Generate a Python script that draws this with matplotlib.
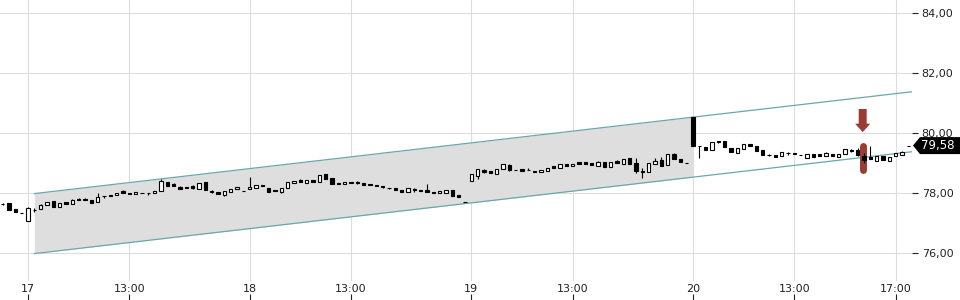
import numpy as np
import matplotlib
matplotlib.use('Agg')
from matplotlib import pyplot as plt
from matplotlib.patches import Polygon

# 15-minute candles, slot 0 = session start of the 17th (35 slots per session)
first_slot = -4
opens = [77.63, 77.67, 77.47, 77.34, 77.08, 77.42, 77.46, 77.60, 77.72, 77.54, 77.69, 77.62, 77.81, 77.80, 77.77, 77.70,
         77.89, 77.94, 77.92, 78.07, 78.01, 77.97, 78.01, 78.00, 77.99, 78.07, 78.38, 78.29, 78.21, 78.20, 78.22, 78.12,
         78.36, 78.08, 78.02, 77.93, 78.04, 78.12, 78.08, 78.12, 78.16, 78.28, 78.18, 78.10, 78.04, 78.16, 78.32, 78.42,
         78.34, 78.42, 78.36, 78.63, 78.49, 78.33, 78.30, 78.36, 78.38, 78.32, 78.30, 78.28, 78.22, 78.18, 78.18, 78.09,
         78.04, 78.13, 78.10, 78.10, 78.02, 77.99, 77.99, 78.10, 77.94, 77.69, 78.41, 78.57, 78.76, 78.72, 78.64, 78.79,
         78.92, 78.78, 78.79, 78.77, 78.74, 78.69, 78.73, 78.90, 78.83, 78.97, 78.89, 79.03, 79.02, 79.00, 78.91, 79.02,
         78.88, 79.07, 78.97, 79.16, 79.00, 78.72, 78.70, 78.97, 79.10, 78.93, 79.29, 79.12, 79.01, 80.52, 79.57, 79.54,
         79.43, 79.73, 79.74, 79.51, 79.33, 79.47, 79.62, 79.57, 79.42, 79.28, 79.27, 79.24, 79.32, 79.33, 79.27, 79.16,
         79.29, 79.29, 79.23, 79.31, 79.20, 79.29, 79.41, 79.43, 79.23, 79.20, 79.08, 79.23, 79.08, 79.24, 79.28, 79.58]
highs = [77.68, 77.68, 77.47, 77.34, 77.53, 77.50, 77.64, 77.71, 77.72, 77.66, 77.69, 77.79, 77.84, 77.83, 77.77, 78.00,
         77.90, 77.94, 78.00, 78.10, 78.01, 78.03, 78.01, 78.01, 78.07, 78.46, 78.38, 78.33, 78.23, 78.20, 78.27, 78.34,
         78.36, 78.10, 78.02, 78.05, 78.12, 78.21, 78.08, 78.54, 78.28, 78.28, 78.18, 78.10, 78.15, 78.36, 78.41, 78.47,
         78.42, 78.42, 78.60, 78.63, 78.49, 78.33, 78.37, 78.36, 78.40, 78.32, 78.30, 78.28, 78.22, 78.18, 78.18, 78.09,
         78.15, 78.17, 78.10, 78.29, 78.02, 78.06, 78.10, 78.10, 77.94, 77.69, 78.63, 78.79, 78.80, 78.72, 78.79, 78.97,
         78.96, 78.78, 78.79, 78.82, 78.74, 78.76, 78.84, 78.90, 78.96, 78.97, 78.98, 79.03, 79.02, 79.00, 79.08, 79.02,
         79.02, 79.10, 79.14, 79.16, 79.16, 78.83, 79.01, 79.18, 79.19, 79.29, 79.33, 79.12, 79.01, 80.52, 79.57, 79.54,
         79.71, 79.73, 79.74, 79.51, 79.49, 79.63, 79.64, 79.57, 79.42, 79.31, 79.27, 79.35, 79.37, 79.33, 79.27, 79.29,
         79.29, 79.29, 79.36, 79.31, 79.31, 79.45, 79.45, 79.50, 79.32, 79.58, 79.23, 79.23, 79.20, 79.33, 79.40, 79.58]
lows = [77.60, 77.42, 77.37, 77.34, 77.08, 77.38, 77.46, 77.60, 77.53, 77.54, 77.64, 77.62, 77.78, 77.77, 77.66, 77.70,
        77.83, 77.90, 77.92, 77.99, 77.98, 77.97, 78.01, 77.94, 77.99, 78.07, 78.23, 78.24, 78.14, 78.15, 78.13, 78.12,
        78.10, 77.99, 77.95, 77.90, 78.04, 78.12, 78.08, 78.12, 78.16, 78.22, 78.04, 78.05, 78.00, 78.16, 78.32, 78.38,
        78.34, 78.36, 78.36, 78.46, 78.31, 78.29, 78.30, 78.32, 78.29, 78.28, 78.27, 78.22, 78.17, 78.12, 78.09, 78.04,
        78.04, 78.03, 78.05, 78.04, 77.99, 77.99, 77.99, 77.90, 77.87, 77.69, 78.41, 78.48, 78.66, 78.65, 78.64, 78.79,
        78.72, 78.78, 78.73, 78.76, 78.70, 78.69, 78.73, 78.84, 78.83, 78.89, 78.89, 78.98, 78.97, 78.93, 78.91, 78.88,
        78.88, 79.01, 78.97, 78.96, 78.68, 78.49, 78.70, 78.97, 78.91, 78.93, 79.12, 79.03, 79.01, 79.57, 79.18, 79.44,
        79.43, 79.66, 79.52, 79.35, 79.33, 79.47, 79.55, 79.39, 79.28, 79.22, 79.21, 79.24, 79.27, 79.29, 79.27, 79.16,
        79.20, 79.23, 79.22, 79.22, 79.20, 79.29, 79.37, 79.22, 78.99, 79.12, 79.08, 79.10, 79.08, 79.24, 79.28, 79.58]
closes = [77.64, 77.43, 77.37, 77.34, 77.51, 77.44, 77.61, 77.71, 77.53, 77.66, 77.64, 77.77, 77.78, 77.77, 77.66, 77.86,
          77.90, 77.90, 78.00, 77.99, 77.98, 78.03, 78.01, 78.01, 78.07, 78.41, 78.23, 78.24, 78.14, 78.15, 78.15, 78.34,
          78.10, 78.02, 77.95, 78.05, 78.12, 78.21, 78.08, 78.21, 78.28, 78.22, 78.04, 78.05, 78.15, 78.36, 78.41, 78.38,
          78.42, 78.36, 78.60, 78.46, 78.31, 78.29, 78.37, 78.32, 78.32, 78.28, 78.27, 78.24, 78.21, 78.17, 78.09, 78.04,
          78.15, 78.09, 78.05, 78.04, 77.99, 78.06, 78.10, 77.90, 77.87, 77.69, 78.63, 78.79, 78.70, 78.65, 78.79, 78.97,
          78.77, 78.78, 78.73, 78.76, 78.70, 78.76, 78.84, 78.84, 78.96, 78.89, 78.98, 78.98, 78.97, 78.93, 79.04, 78.88,
          79.02, 79.01, 79.14, 78.96, 78.74, 78.70, 79.01, 79.08, 78.91, 79.29, 79.12, 79.03, 79.01, 79.57, 79.55, 79.44,
          79.71, 79.71, 79.52, 79.35, 79.49, 79.63, 79.55, 79.39, 79.28, 79.27, 79.21, 79.35, 79.33, 79.29, 79.27, 79.29,
          79.20, 79.23, 79.33, 79.22, 79.31, 79.45, 79.42, 79.25, 79.09, 79.13, 79.23, 79.10, 79.20, 79.33, 79.37, 79.58]

tick_slots = [0, 16, 35, 51, 70, 86, 105, 121, 137]
tick_labels = ['17', '13:00', '18', '13:00', '19', '13:00', '20', '13:00', '17:00']
price_ticks = [76, 78, 80, 82, 84]
last_price = 79.58

# trend channel: start/end slot of the shaded part, lower line at start, width, slope per slot
channel_start, channel_end = 1, 105
channel_low0 = 75.98
channel_width = 2.0
channel_slope = 0.0245

# signal marker
signal_slot = 131.8
signal_range = (78.75, 79.55)
arrow_top, arrow_tip = 80.80, 80.03

red = '#9c3a34'
teal = '#6aa7aa'

fig = plt.figure(figsize=(9.6, 3), dpi=100)
ax = fig.add_axes([0, 19 / 300, 912 / 960, 281 / 300])
xmin, xmax = -28 / 6.333, 884 / 6.333
ax.set_xlim(xmin, xmax)
ax.set_ylim(84.433 - 281 / 30, 84.433)

# grid
for p in price_ticks:
    ax.axhline(p, color='#dcdcdc', lw=0.8, zorder=0)
for s in tick_slots:
    ax.axvline(s, color='#dcdcdc', lw=0.8, zorder=0)

# channel
xs = np.array([channel_start, channel_end])
low = channel_low0 + (xs - channel_start) * channel_slope
ax.fill_between(xs, low, low + channel_width, color='#dedede', lw=0, zorder=1)
xl = np.array([channel_start, xmax])
low_line = channel_low0 + (xl - channel_start) * channel_slope
ax.plot(xl, low_line, color=teal, lw=0.9, zorder=2)
ax.plot(xl, low_line + channel_width, color=teal, lw=0.9, zorder=2)

# signal marker
ax.plot([signal_slot, signal_slot], signal_range, color=red, lw=5, solid_capstyle='round', zorder=3)
ax.arrow(signal_slot, arrow_top, 0, arrow_tip - arrow_top, width=1.26, head_width=2.4, head_length=0.28,
         length_includes_head=True, color=red, lw=0, zorder=3)

# candles
o = np.array(opens)
c = np.array(closes)
x = np.arange(len(o)) + first_slot
ax.vlines(x, lows, highs, color='black', lw=0.8, zorder=4)
up = c >= o
ax.bar(x[up], c[up] - o[up], bottom=o[up], width=0.55, color='white', edgecolor='black', lw=0.8, zorder=5)
ax.bar(x[~up], c[~up] - o[~up], bottom=o[~up], width=0.55, color='black', edgecolor='black', lw=0.8, zorder=5)

for sp in ax.spines.values():
    sp.set_visible(False)

# x axis: labels just under the plot, small tick marks below them
ax.set_xticks(tick_slots)
ax.set_xticklabels(tick_labels)
ax.tick_params(axis='x', length=0, pad=2, labelsize=8, labelcolor='#222222')
ax.vlines(tick_slots, -13 / 281, -19 / 281, transform=ax.get_xaxis_transform(), color='#222222',
          lw=0.8, clip_on=False)

# y axis on the right
ax.yaxis.tick_right()
ax.set_yticks(price_ticks)
ax.set_yticklabels([f'{p:.2f}'.replace('.', ',') for p in price_ticks])
ax.tick_params(axis='y', length=4, width=0.8, pad=3, labelsize=8, labelcolor='#222222', color='#222222')

# last price tag
def px(xp, yp):
    return (xp / 960, (300 - yp) / 300)

y_last = (84.433 - last_price) * 30
tag = Polygon([px(913, y_last), px(920, y_last - 8.5), px(960, y_last - 8.5), px(960, y_last + 8.5),
               px(920, y_last + 8.5)], closed=True, transform=fig.transFigure, facecolor='black',
              edgecolor='none')
fig.add_artist(tag)
fig.text(938 / 960, (300 - y_last) / 300, f'{last_price:.2f}'.replace('.', ','), color='white',
         fontsize=8.5, ha='center', va='center')

fig.savefig('out.png', dpi=100)
